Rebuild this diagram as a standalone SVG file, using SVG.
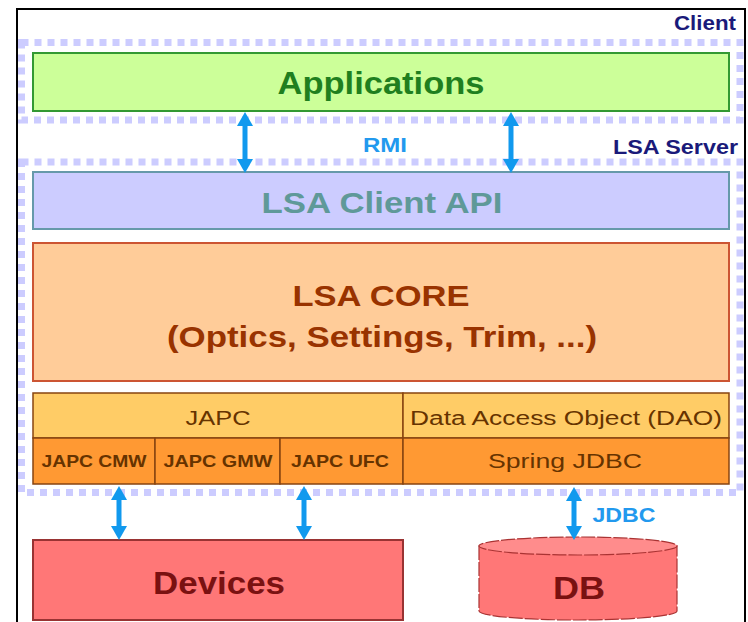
<svg xmlns="http://www.w3.org/2000/svg" width="748" height="622" viewBox="0 0 748 622">
<defs>
<marker id="ah" viewBox="0 0 14 16" markerWidth="14" markerHeight="16" refX="4" refY="8" orient="auto-start-reverse" markerUnits="userSpaceOnUse">
<path d="M0,0 L14,8 L0,16 z" fill="#1199ee"/>
</marker>
<style>
text{font-family:"Liberation Sans",Arial,sans-serif;text-anchor:middle}
.b{font-weight:bold}
.zone{fill:none;stroke:#ccccff;stroke-width:7;stroke-dasharray:7 6}
.lbl{fill:#1a1a7a;font-weight:bold;font-size:21px;text-anchor:end}
.proto{fill:#2299ee;font-weight:bold;font-size:21px}
.arr{stroke:#1199ee;stroke-width:5;marker-start:url(#ah);marker-end:url(#ah)}
.japc{fill:#ffcc66;stroke:#884411;stroke-width:1.5}
.drv{fill:#ff9933;stroke:#884411;stroke-width:1.5}
.bt{fill:#663300}
</style>
</defs>
<rect x="0" y="0" width="748" height="622" fill="#ffffff"/>
<rect x="17" y="9" width="728" height="620" fill="none" stroke="#000" stroke-width="2"/>

<g id="client-zone">
<rect class="zone" x="21.5" y="42.5" width="718.5" height="77.5"/>
<text class="lbl" x="736" y="30" textLength="62" lengthAdjust="spacingAndGlyphs">Client</text>
</g>
<g id="server-zone">
<rect class="zone" x="21.5" y="162" width="718.5" height="330.5"/>
<text class="lbl" x="738" y="154" textLength="125" lengthAdjust="spacingAndGlyphs">LSA Server</text>
</g>

<g id="applications">
<rect x="33" y="53" width="696" height="58" fill="#ccff99" stroke="#339933" stroke-width="2"/>
<text class="b" x="381" y="94" font-size="31" fill="#1f7f1f" textLength="207" lengthAdjust="spacingAndGlyphs">Applications</text>
</g>
<g id="client-api">
<rect x="33" y="172" width="696" height="57" fill="#ccccff" stroke="#6699aa" stroke-width="2"/>
<text class="b" x="382" y="213" font-size="30" fill="#5f9999" textLength="241" lengthAdjust="spacingAndGlyphs">LSA Client API</text>
</g>
<g id="core">
<rect x="33" y="243" width="696" height="138" fill="#ffcc99" stroke="#cc5533" stroke-width="2"/>
<text class="b" x="381" y="306" font-size="30" fill="#993300" textLength="177" lengthAdjust="spacingAndGlyphs">LSA CORE</text>
<text class="b" x="382" y="347" font-size="30" fill="#993300" textLength="430" lengthAdjust="spacingAndGlyphs">(Optics, Settings, Trim, ...)</text>
</g>
<g id="japc">
<rect class="japc" x="33" y="393" width="370" height="45"/>
<text class="bt" x="218" y="425" font-size="20" textLength="65" lengthAdjust="spacingAndGlyphs">JAPC</text>
</g>
<g id="dao">
<rect class="japc" x="403" y="393" width="326" height="45"/>
<text class="bt" x="566" y="425" font-size="20" textLength="312" lengthAdjust="spacingAndGlyphs">Data Access Object (DAO)</text>
</g>
<g id="japc-cmw">
<rect class="drv" x="33" y="438" width="122" height="46"/>
<text class="b bt" x="94" y="467" font-size="17" textLength="105" lengthAdjust="spacingAndGlyphs">JAPC CMW</text>
</g>
<g id="japc-gmw">
<rect class="drv" x="155" y="438" width="125" height="46"/>
<text class="b bt" x="218" y="467" font-size="17" textLength="109" lengthAdjust="spacingAndGlyphs">JAPC GMW</text>
</g>
<g id="japc-ufc">
<rect class="drv" x="280" y="438" width="123" height="46"/>
<text class="b bt" x="340" y="467" font-size="17" textLength="98" lengthAdjust="spacingAndGlyphs">JAPC UFC</text>
</g>
<g id="spring-jdbc">
<rect class="drv" x="403" y="438" width="326" height="46"/>
<text class="bt" x="565" y="468" font-size="20" textLength="154" lengthAdjust="spacingAndGlyphs">Spring JDBC</text>
</g>
<g id="devices">
<rect x="33" y="540" width="370" height="80" fill="#ff7777" stroke="#993333" stroke-width="2"/>
<text class="b" x="219" y="594" font-size="31" fill="#7a1111" textLength="132" lengthAdjust="spacingAndGlyphs">Devices</text>
</g>
<g id="db">
<path d="M479,546 L479,611 A99,9 0 0 0 677,611 L677,546 Z" fill="#ff7777" stroke="#aa3333" stroke-width="1.2" stroke-dasharray="14 2"/>
<ellipse cx="578" cy="546" rx="99" ry="9" fill="#ff8c8c" stroke="#aa3333" stroke-width="1.2" stroke-dasharray="14 2"/>
<text class="b" x="579" y="599" font-size="32" fill="#7a1111" textLength="52" lengthAdjust="spacingAndGlyphs">DB</text>
</g>

<g id="connectors">
<line class="arr" x1="245" y1="122" x2="245" y2="163"/>
<line class="arr" x1="511" y1="122" x2="511" y2="163"/>
<text class="proto" x="385" y="152" textLength="44" lengthAdjust="spacingAndGlyphs">RMI</text>
<line class="arr" x1="119" y1="496" x2="119" y2="530"/>
<line class="arr" x1="304" y1="496" x2="304" y2="530"/>
<line class="arr" x1="574" y1="497" x2="574" y2="530"/>
<text class="proto" x="624" y="522" font-size="20" textLength="63" lengthAdjust="spacingAndGlyphs">JDBC</text>
</g>
</svg>
